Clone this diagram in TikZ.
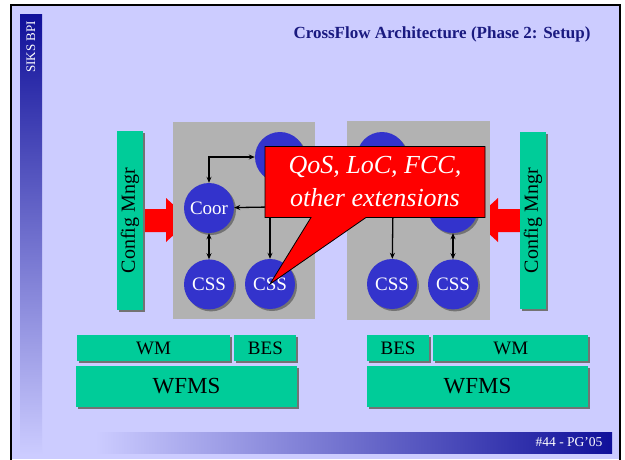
\documentclass[tikz,border=0pt]{standalone}
\usepackage{fontspec}
\setmainfont{Liberation Serif}
\usetikzlibrary{positioning,arrows.meta,shadows,shapes.callouts}

\definecolor{slidebg}{HTML}{CCCCFF}
\definecolor{mint}{HTML}{00CC99}
\definecolor{cssblue}{HTML}{3333CC}
\definecolor{panelgray}{HTML}{B2B2B2}
\definecolor{titleblue}{HTML}{1A1A80}
\definecolor{barblue}{HTML}{10109A}

\tikzset{
  shade box/.style = {drop shadow={shadow xshift=2pt, shadow yshift=-2pt, fill=gray!90!black, opacity=1}},
  layer/.style = {fill=mint, inner sep=0pt, shade box, font=\fontsize{19}{20}\selectfont},
  station/.style = {circle, fill=cssblue, minimum size=50pt, inner sep=0pt, text=white,
    font=\fontsize{19}{20}\selectfont, shade box},
  link/.style = {line width=1.3pt, {Stealth[length=6pt,width=5pt]}-{Stealth[length=6pt,width=5pt]}},
  flow/.style = {line width=1.3pt, -{Stealth[length=6pt,width=5pt]}},
  push/.style = {fill=red}
}

\begin{document}
\begin{tikzpicture}[x=1pt, y=-1pt]
\useasboundingbox (0,0) rectangle (625,459);

% slide frame
\fill[white] (0,0) rectangle (625,459);
\fill[slidebg] (11,5) rectangle (620,459);
\draw[line width=2pt] (11,461) -- (11,5) -- (620,5) -- (620,461);
\shade[top color=barblue, bottom color=slidebg] (20,14) rectangle (42,455);
\shade[left color=slidebg, right color=barblue] (95,432) rectangle (612,453);

\node (brand) at (31,47) {\color{white}\fontsize{13}{14}\selectfont\rotatebox{90}{SIKS BPI}};
\node[text=titleblue, font=\bfseries\fontsize{17}{18}\selectfont] (title) at (442,34)
  {CrossFlow Architecture (Phase 2: Setup)};
\node[anchor=east, text=white, font=\fontsize{13.5}{14}\selectfont] (page) at (606,442) {\#44 - PG’05};

% config pushes
\fill[push] (143,209) -- (166,209) -- (166,198) -- (190,220) -- (166,242) -- (166,232) -- (143,232) -- cycle;
\fill[push] (520,209) -- (498,209) -- (498,198) -- (474,220) -- (498,242) -- (498,232) -- (520,232) -- cycle;

% participant panels
\fill[panelgray] (173,122) rectangle (315,319);
\fill[panelgray] (347,121) rectangle (490,320);

\node[layer, minimum width=26pt, minimum height=179pt] (cfgL) at (130,220.5)
  {\fontsize{20}{21}\selectfont\rotatebox{90}{Config Mngr}};
\node[layer, minimum width=26pt, minimum height=177pt] (cfgR) at (533,220.5)
  {\fontsize{20}{21}\selectfont\rotatebox{90}{Config Mngr}};

% left participant
\node[station] (coorL) at (209,208) {Coor};
\node[station] (topL) at (280,157) {};
\node[station] (cssLa) [below=26pt of coorL] {CSS};
\node[station] (cssLb) at (270,284) {CSS};
\coordinate (hubL) at (270,207);

\draw[link] (coorL) |- (topL);
\draw[link] (coorL) -- (cssLa);
\draw[flow] (hubL) -- (coorL);
\draw[flow] (hubL) -- (cssLb);

% right participant
\node[station] (topR) at (382,157) {};
\node[station] (coorR) at (453,208) {};
\node[station] (cssRa) at (392,284) {CSS};
\node[station] (cssRb) [below=26pt of coorR] {CSS};
\coordinate (hubR) at (393,207);

\draw[link] (coorR) -- (cssRb);
\draw[flow] (hubR) -- (cssRa);

% callout
\node[rectangle callout, fill=red, draw=black, line width=0.8pt, minimum width=220pt, minimum height=71pt,
  callout absolute pointer={(cssLb.center)}, callout pointer width=55pt,
  align=center, text=white, font=\itshape\fontsize{26}{33}\selectfont] (ext) at (375,182)
  {QoS, LoC, FCC,\\other extensions};

% workflow layers
\node[layer, minimum width=153pt, minimum height=26pt] (wmL) at (153.5,348) {WM};
\node[layer, minimum width=62pt, minimum height=26pt] (besL) [right=4pt of wmL] {BES};
\node[layer, minimum width=221pt, minimum height=41pt, font=\fontsize{23}{24}\selectfont] (wfmsL) at (186.5,386.5) {WFMS};

\node[layer, minimum width=62pt, minimum height=26pt] (besR) at (398,348) {BES};
\node[layer, minimum width=155pt, minimum height=26pt] (wmR) [right=4pt of besR] {WM};
\node[layer, minimum width=221pt, minimum height=41pt, font=\fontsize{23}{24}\selectfont] (wfmsR) at (477.5,386.5) {WFMS};
\end{tikzpicture}
\end{document}
